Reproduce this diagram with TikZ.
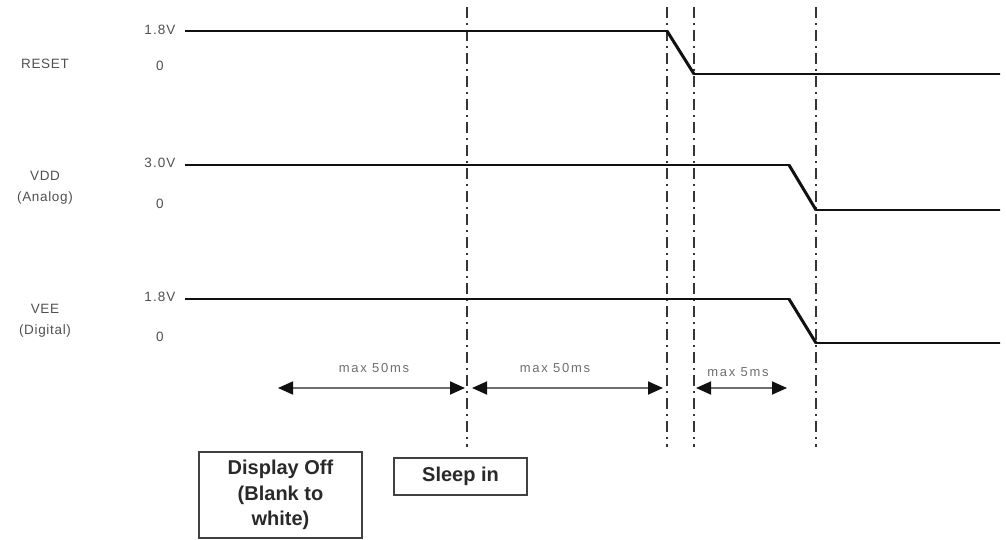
\documentclass[tikz,border=0pt]{standalone}
\usepackage{fontspec}
\setmainfont{Liberation Sans}
\usetikzlibrary{arrows.meta,positioning}
\definecolor{Ink}{HTML}{111111}
\definecolor{Muted}{HTML}{505050}
\definecolor{Soft}{HTML}{6E6E6E}
\tikzset{
  signame/.style={font=\fontsize{13.5}{21}\selectfont\addfontfeatures{LetterSpace=5},text=Muted,align=center},
  levelname/.style={font=\fontsize{13.5}{15}\selectfont\addfontfeatures{LetterSpace=8},text=Muted},
  wave/.style={draw=Ink,line width=1.8pt},
  fall/.style={draw=Ink,line width=3pt},
  marker/.style={draw=Ink!85,line width=1.2pt,dash pattern=on 11pt off 5pt on 2pt off 5pt},
  span/.style={{Triangle[length=15pt,width=13pt,color=Ink]}-{Triangle[length=15pt,width=13pt,color=Ink]},draw=Soft,line width=1.8pt},
  spanname/.style={font=\fontsize{13}{15}\selectfont\addfontfeatures{LetterSpace=13},text=Soft},
  stepbox/.style={draw=Ink!80,line width=1.2pt,align=center,font=\fontsize{20}{25.5}\selectfont\bfseries,text=Ink!90}
}

\begin{document}
\begin{tikzpicture}[x=1pt,y=-1pt]
  \useasboundingbox (0,0) rectangle (1006,540);
  % signal names
  \node[signame] (rstname) at (45,64) {RESET};
  \node[signame] (vddname) at (45,188) {VDD\\(Analog)};
  \node[signame] (veename) at (45,321) {VEE\\(Digital)};
  % levels
  \node[levelname] (rsthi) at (160,30) {1.8V};
  \node[levelname] (rstlo) at (160,66) {0};
  \node[levelname] (vddhi) at (160,163) {3.0V};
  \node[levelname] (vddlo) at (160,204) {0};
  \node[levelname] (veehi) at (160,297) {1.8V};
  \node[levelname] (veelo) at (160,337) {0};
  % timing markers
  \foreach \x/\n in {467/ta,667/tb,694/tc,816/td}
    \draw[marker] (\x,7) coordinate (\n top) -- (\x,447) coordinate (\n bot);
  % RESET
  \coordinate (r0) at (185,31);
  \coordinate (r1) at (667,31);
  \coordinate (r2) at (694,74);
  \coordinate (r3) at (1000,74);
  \draw[wave] (r0) -- (r1) -- (r2) -- (r3);
  \draw[fall] (r1) -- (r2);
  % VDD
  \coordinate (d0) at (185,165);
  \coordinate (d1) at (789,165);
  \coordinate (d2) at (816,210);
  \coordinate (d3) at (1000,210);
  \draw[wave] (d0) -- (d1) -- (d2) -- (d3);
  \draw[fall] (d1) -- (d2);
  % VEE
  \coordinate (e0) at (185,299);
  \coordinate (e1) at (789,299);
  \coordinate (e2) at (816,343);
  \coordinate (e3) at (1000,343);
  \draw[wave] (e0) -- (e1) -- (e2) -- (e3);
  \draw[fall] (e1) -- (e2);
  % spans
  \coordinate (s1a) at (278,388);
  \coordinate (s1b) at (465,388);
  \coordinate (s2a) at (472,388);
  \coordinate (s2b) at (663,388);
  \coordinate (s3a) at (696,388);
  \coordinate (s3b) at (787,388);
  \draw[span] (s1a) -- (s1b);
  \draw[span] (s2a) -- (s2b);
  \draw[span] (s3a) -- (s3b);
  \node[spanname] (s1name) at (374,368) {max 50ms};
  \node[spanname] (s2name) at (555,368) {max 50ms};
  \node[spanname] (s3name) at (738,372) {max 5ms};
  % steps
  \node[stepbox,minimum width=163pt,minimum height=86pt] (dispoff) at (280.5,495) {Display Off\\(Blank to\\white)};
  \node[stepbox,minimum width=133pt,minimum height=37pt] (sleepin) at (460.5,476.5) {Sleep in};
\end{tikzpicture}
\end{document}
